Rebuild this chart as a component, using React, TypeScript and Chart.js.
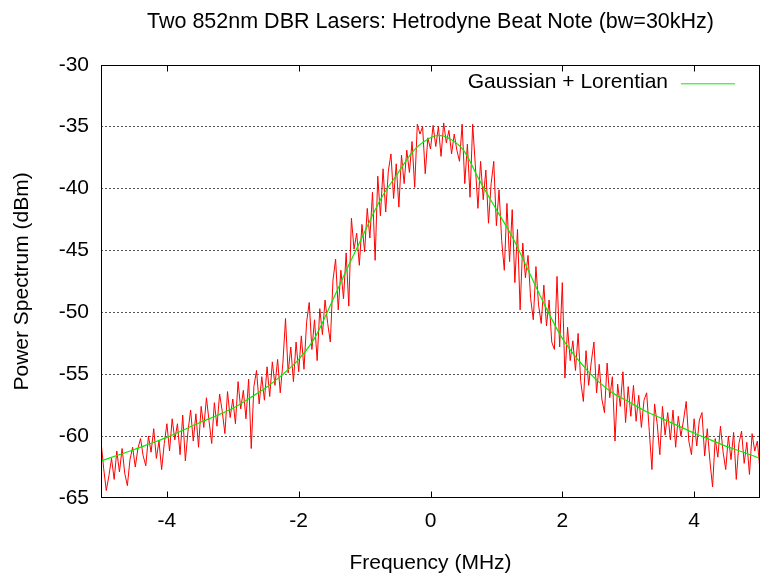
import { useEffect, useRef } from 'react';
import { Chart, registerables } from 'chart.js';

Chart.register(...registerables);

const TITLE = 'Two 852nm DBR Lasers: Hetrodyne Beat Note (bw=30kHz)';
const X_LABEL = 'Frequency (MHz)';
const Y_LABEL = 'Power Spectrum (dBm)';
const FIT_LABEL = 'Gaussian + Lorentian';

const xTicks = [-4, -2, 0, 2, 4];
const yTicks = [-65, -60, -55, -50, -45, -40, -35, -30];

// measured beat note, sampled every 0.04 MHz from -5 MHz
const beatStart = -5;
const beatStep = 0.04;
const beatPower = [
  -60.4, -62.6, -64.4, -63.2, -61.8, -63.5, -61.2, -62.9, -61.0, -63.0,
  -64.0, -61.9, -60.9, -62.5, -61.0, -60.2, -61.6, -62.4, -60.0, -61.3,
  -59.4, -61.8, -60.4, -62.7, -60.6, -59.0,
  -61.2, -58.6, -60.3, -59.0, -61.5, -58.3, -62.0, -59.6, -57.9, -60.4,
  -58.2, -60.9, -57.6, -59.3, -56.9, -58.8, -60.6, -57.3, -59.2, -56.6,
  -58.0, -59.8, -56.4, -58.5, -57.0,
  -59.0, -55.6, -57.8, -56.3, -58.6, -55.4, -61.0, -56.0, -54.7, -57.4,
  -55.2, -57.1, -54.4, -56.8, -54.0, -55.9, -53.8, -56.5, -54.1, -50.5,
  -54.9, -52.8, -55.6, -52.4, -54.8,
  -51.9, -54.6, -50.8, -49.2, -53.0, -50.6, -53.9, -49.7, -51.8, -49.0,
  -50.9, -52.4, -47.4, -45.7, -49.8, -46.6, -48.9, -45.2, -49.5, -42.4,
  -44.9, -43.6, -46.2, -42.9, -45.1,
  -41.6, -44.0, -40.3, -45.8, -39.0, -42.2, -38.4, -41.9, -38.6, -37.2,
  -40.8, -38.0, -41.5, -37.3, -39.6, -36.9, -38.7, -36.2, -39.9, -34.8,
  -35.6, -35.0, -38.8, -35.9, -36.8,
  -34.9, -36.6, -35.0, -37.4, -34.7, -36.3, -35.3, -37.2, -35.6, -36.9,
  -37.8, -34.8, -39.6, -36.4, -40.7, -34.8, -38.1, -41.6, -37.8, -40.9,
  -38.5, -42.8, -39.6, -37.8, -43.0,
  -40.1, -44.2, -46.6, -41.2, -45.9, -41.7, -47.6, -43.3, -49.8, -44.4,
  -47.2, -45.4, -48.9, -50.6, -46.3, -49.4, -50.9, -47.8, -51.1, -49.0,
  -52.4, -53.0, -47.1, -52.8, -47.6,
  -55.3, -51.2, -53.9, -52.3, -54.7, -51.7, -55.6, -57.2, -53.1, -55.9,
  -54.0, -52.4, -56.5, -54.2, -57.0, -58.1, -54.1, -56.9, -55.2, -60.4,
  -55.8, -57.6, -54.8, -58.9, -56.0,
  -58.4, -55.9, -58.8, -56.7, -59.3, -57.1, -56.5, -59.6, -62.7, -57.4,
  -59.0, -61.5, -57.6, -59.9, -58.1, -60.3, -57.9, -60.9, -58.4, -60.0,
  -58.7, -57.2, -60.4, -61.5, -58.6,
  -60.8, -58.7, -58.1, -61.6, -59.4, -62.0, -64.1, -60.2, -61.7, -59.2,
  -61.3, -62.7, -60.0, -61.9, -59.7, -63.5, -60.6, -59.6, -62.2, -60.5,
  -63.1, -59.8, -61.2, -60.4, -62.8,
];

// fitted Gaussian + Lorentzian curve
const fitFreq = [
  -5, -4.75, -4.5, -4.25, -4, -3.75, -3.5, -3.25, -3, -2.75, -2.5, -2.25, -2, -1.75,
  -1.5, -1.25, -1, -0.75, -0.5, -0.25, 0, 0.12, 0.25, 0.5, 0.75, 1, 1.25, 1.5, 1.75,
  2, 2.25, 2.5, 2.75, 3, 3.25, 3.5, 3.75, 4, 4.25, 4.5, 4.75, 5,
];
const fitPower = [
  -62.0, -61.55, -61.1, -60.6, -60.1, -59.5, -58.9, -58.35, -57.75, -56.95, -56.1, -55.05,
  -53.8, -52.0, -49.2, -46.3, -43.5, -40.8, -38.8, -36.9, -35.9, -35.7, -35.85, -36.9,
  -39.4, -41.7, -44.0, -46.8, -49.6, -52.1, -53.9, -55.35, -56.45, -57.2, -57.95, -58.55,
  -59.15, -59.75, -60.3, -60.85, -61.3, -61.8,
];

const FONT_FAMILY = "'Liberation Sans', Arial, Helvetica, sans-serif";
const FONT = { family: FONT_FAMILY, size: 21 };

const framePlugin = {
  id: 'gnuFrame',
  afterDatasetsDraw(chart: any) {
    const { ctx, chartArea: a, scales } = chart;
    const L = Math.round(a.left) + 0.5;
    const R = Math.round(a.right) - 0.5;
    const T = Math.round(a.top) + 0.5;
    const B = Math.round(a.bottom) - 0.5;
    ctx.save();
    ctx.strokeStyle = '#000';
    ctx.lineWidth = 1;
    ctx.setLineDash([]);
    ctx.strokeRect(L, T, R - L, B - T);
    ctx.beginPath();
    for (const v of xTicks) {
      const px = Math.round(scales.x.getPixelForValue(v)) + 0.5;
      ctx.moveTo(px, B);
      ctx.lineTo(px, B - 6);
      ctx.moveTo(px, T);
      ctx.lineTo(px, T + 6);
    }
    ctx.stroke();
    // key (gnuplot style: text then sample line)
    ctx.font = `21px ${FONT_FAMILY}`;
    ctx.fillStyle = '#000';
    ctx.textAlign = 'right';
    ctx.textBaseline = 'alphabetic';
    ctx.fillText(FIT_LABEL, a.right - 92, a.top + 23);
    ctx.strokeStyle = '#00ee00';
    ctx.beginPath();
    ctx.moveTo(a.right - 79, a.top + 19);
    ctx.lineTo(a.right - 25, a.top + 19);
    ctx.stroke();
    ctx.restore();
  },
};

export default function App() {
  const ref = useRef<HTMLCanvasElement | null>(null);

  useEffect(() => {
    document.body.style.margin = '0';
    const canvas = ref.current;
    if (!canvas) return;
    const beatData = beatPower.map((p, i) => ({ x: beatStart + i * beatStep, y: p }));
    const fitData = fitFreq.map((f, i) => ({ x: f, y: fitPower[i] }));
    const chart = new Chart(canvas, {
      type: 'line',
      data: {
        datasets: [
          {
            label: FIT_LABEL,
            data: fitData,
            borderColor: '#00ee00',
            borderWidth: 1.2,
            pointRadius: 0,
            cubicInterpolationMode: 'monotone',
            fill: false,
          },
          {
            label: 'beat note',
            data: beatData,
            borderColor: '#ff0000',
            borderWidth: 1,
            pointRadius: 0,
            tension: 0,
            fill: false,
          },
        ],
      },
      options: {
        responsive: false,
        animation: false,
        devicePixelRatio: 1,
        layout: { padding: { left: 0, right: 7, top: 0, bottom: 0 } },
        plugins: {
          legend: { display: false },
          tooltip: { enabled: false },
          title: {
            display: true,
            text: TITLE,
            fullSize: false,
            color: '#000',
            font: { family: FONT_FAMILY, size: 21.5, weight: 'normal' },
            padding: { top: 9, bottom: 30 },
          },
        },
        scales: {
          x: {
            type: 'linear',
            min: -5,
            max: 5,
            afterBuildTicks: (s: any) => {
              s.ticks = xTicks.map((v) => ({ value: v }));
            },
            afterFit: (s: any) => {
              s.height = 81;
            },
            grid: { display: false, drawTicks: false },
            border: { display: false },
            ticks: {
              padding: 11,
              color: '#000',
              font: FONT,
              maxRotation: 0,
              autoSkip: false,
              callback: (v: any) => String(v),
            },
            title: {
              display: true,
              text: X_LABEL,
              color: '#000',
              font: FONT,
              padding: { top: 0, bottom: 3 },
            },
          },
          y: {
            type: 'linear',
            min: -65,
            max: -30,
            afterBuildTicks: (s: any) => {
              s.ticks = yTicks.map((v) => ({ value: v }));
            },
            afterFit: (s: any) => {
              s.width = 101;
            },
            grid: {
              drawTicks: false,
              lineWidth: 1,
              color: (c: any) =>
                c.tick && (c.tick.value === -30 || c.tick.value === -65) ? 'rgba(0,0,0,0)' : '#555',
            },
            border: { display: false, dash: [2, 2] },
            ticks: {
              padding: 12,
              color: '#000',
              font: FONT,
              autoSkip: false,
              callback: (v: any) => String(v),
            },
            title: {
              display: true,
              text: Y_LABEL,
              color: '#000',
              font: FONT,
              padding: { top: 10, bottom: 0 },
            },
          },
        },
      },
      plugins: [framePlugin],
    } as any);
    return () => chart.destroy();
  }, []);

  return (
    <div style={{ width: 767, height: 579, background: '#fff' }}>
      <canvas ref={ref} width={767} height={579} />
    </div>
  );
}
